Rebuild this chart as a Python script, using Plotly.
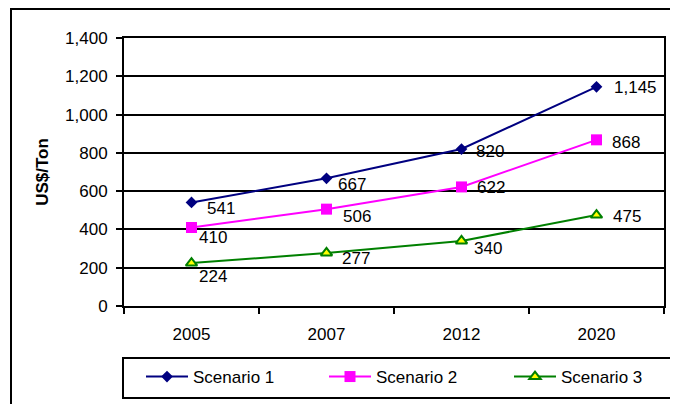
import plotly.graph_objects as go

# chart data
years = ['2005', '2007', '2012', '2020']
scenario1 = [541, 667, 820, 1145]
scenario2 = [410, 506, 622, 868]
scenario3 = [224, 277, 340, 475]
y_ticks = [0, 200, 400, 600, 800, 1000, 1200, 1400]

# label nudges in px (right, down), per point
s1_nudge = [(13, 6), (9, 6), (12, 2), (15, 1)]
s2_nudge = [(5, 10), (14, 7), (13, 1), (13, 3)]
s3_nudge = [(5, 13), (13, 6), (10, 8), (14, 1)]

FONT = 'Liberation Sans, Arial, sans-serif'
FS = 17

# page body margin pushes the figure in a bit, so lay out in window px minus OFF
OFF = 8
WID, HGT = 678, 404
L, T, W, H = 124 - OFF, 38 - OFF, 540, 268
def px(x): return (x - OFF - L) / W
def py(y): return (T + H - (y - OFF)) / H

fig = go.Figure()
fig.add_trace(go.Scatter(x=years, y=scenario1, name='Scenario 1', mode='lines+markers',
                         line=dict(color='#000080', width=2),
                         marker=dict(symbol='diamond', size=9, color='#000080'),
                         legend='legend'))
fig.add_trace(go.Scatter(x=years, y=scenario2, name='Scenario 2', mode='lines+markers',
                         line=dict(color='#FF00FF', width=2),
                         marker=dict(symbol='square', size=11, color='#FF00FF'),
                         legend='legend2'))
fig.add_trace(go.Scatter(x=years, y=scenario3, name='Scenario 3', mode='lines+markers',
                         line=dict(color='#008000', width=2),
                         marker=dict(symbol='triangle-up', size=10, color='#FFFF00',
                                     line=dict(color='#008000', width=2)),
                         legend='legend3'))

anns = []
for vals, nudge in [(scenario1, s1_nudge), (scenario2, s2_nudge), (scenario3, s3_nudge)]:
    for i, (v, (dx, dy)) in enumerate(zip(vals, nudge)):
        # category index, numeric-looking strings get read as numbers
        anns.append(dict(x=i, y=v, xref='x', yref='y', text=f'{v:,}', showarrow=False,
                         xanchor='left', yanchor='middle', xshift=dx, yshift=-dy,
                         font=dict(family=FONT, size=FS, color='black')))

shapes = [
    # outer chart border (left + top edges visible)
    dict(type='rect', xref='paper', yref='paper', x0=px(11), x1=px(700), y0=py(430), y1=py(OFF + 1),
         line=dict(color='black', width=2), layer='below'),
    # legend box
    dict(type='rect', xref='paper', yref='paper', x0=px(123), x1=px(673), y0=py(398), y1=py(358),
         line=dict(color='black', width=2), layer='below'),
]

def leg(xs):
    return dict(orientation='h', x=px(xs), xanchor='left', y=py(377), yanchor='middle',
                borderwidth=0, itemwidth=42, bgcolor='rgba(0,0,0,0)',
                font=dict(family=FONT, size=FS, color='black'))

fig.update_layout(
    width=WID, height=HGT,
    margin=dict(l=L, r=WID - L - W, t=T, b=HGT - T - H, autoexpand=False),
    paper_bgcolor='white', plot_bgcolor='white',
    font=dict(family=FONT, size=FS, color='black'),
    showlegend=True,
    legend=leg(141), legend2=leg(324), legend3=leg(509),
    annotations=anns,
    shapes=shapes,
)
fig.update_xaxes(type='category', range=[-0.5, 3.5], showline=True, linecolor='black', linewidth=2,
                 mirror=True, ticks='outside', tickson='boundaries', ticklen=6, tickwidth=2,
                 tickcolor='black', showgrid=False, ticklabelstandoff=12, automargin=False)
fig.update_yaxes(range=[0, 1400], tickvals=y_ticks, tickformat=',d', showline=True, linecolor='black',
                 linewidth=2, mirror=True, ticks='outside', ticklen=6, tickwidth=2, tickcolor='black',
                 showgrid=True, gridcolor='black', gridwidth=2, zeroline=False, ticklabelstandoff=5,
                 automargin=False,
                 title=dict(text='<b>US$/Ton</b>', standoff=12, font=dict(family=FONT, size=FS)))

fig.write_html('out.html')
